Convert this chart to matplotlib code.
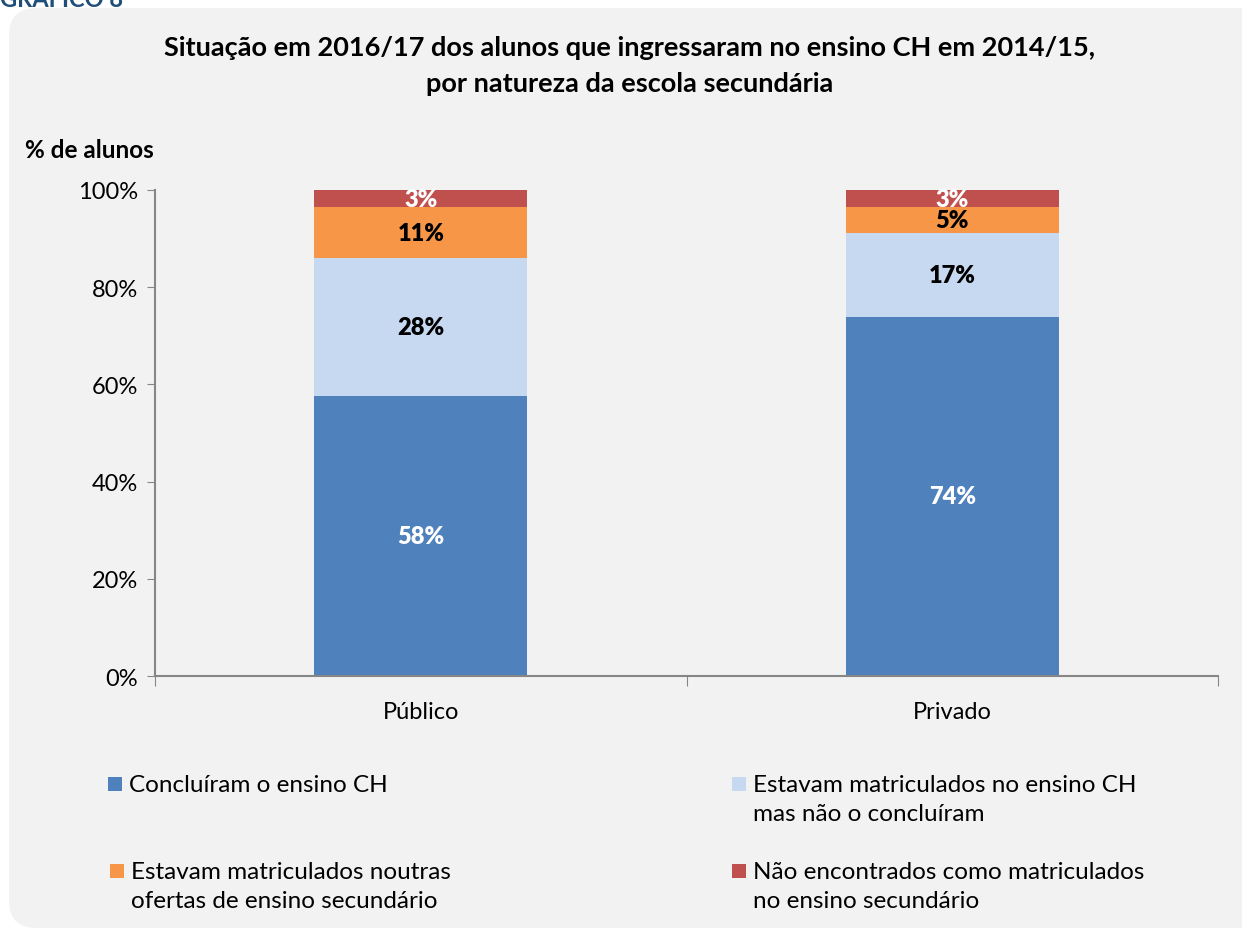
import matplotlib
matplotlib.use("Agg")
import matplotlib.pyplot as plt
from matplotlib.patches import FancyBboxPatch, Rectangle
import numpy as np

plt.rcParams['font.family'] = ['Lato', 'DejaVu Sans']

categories = ["Público", "Privado"]
series_names = [
    "Concluíram o ensino CH",
    "Estavam matriculados no ensino CH\nmas não o concluíram",
    "Estavam matriculados noutras\nofertas de ensino secundário",
    "Não encontrados como matriculados\nno ensino secundário",
]
concluiram = [57.6, 73.9]
matric_ch = [28.4, 17.3]
matric_outras = [10.5, 5.3]
nao_encontrados = [3.5, 3.5]
labels_concluiram = ["58%", "74%"]
labels_matric_ch = ["28%", "17%"]
labels_matric_outras = ["11%", "5%"]
labels_nao_encontrados = ["3%", "3%"]
yticks = [0, 20, 40, 60, 80, 100]
ytick_labels = ["0%", "20%", "40%", "60%", "80%", "100%"]

colors = ["#4F81BD", "#C6D9F1", "#F79646", "#C0504D"]
label_colors = ["white", "black", "black", "white"]

W, H = 1242, 929
fig = plt.figure(figsize=(W / 100, H / 100), dpi=100)
fig.patch.set_facecolor("white")

bg = FancyBboxPatch((9 / W, 0 / H), (W + 30 - 9) / W, (H - 9) / H,
                    boxstyle="round,pad=0,rounding_size=0.022",
                    transform=fig.transFigure, facecolor="#F2F2F2",
                    edgecolor="none", zorder=-5, mutation_aspect=W / H)
fig.patches.append(bg)
fig.text(0.0, 1.0 + 12 / H, "GRÁFICO 8", fontsize=17, fontweight="bold",
         color="#1F4E79", ha="left", va="top", zorder=-1)

fig.text(630 / W, 1 - 66 / H,
         "Situação em 2016/17 dos alunos que ingressaram no ensino CH em 2014/15,\npor natureza da escola secundária",
         ha="center", va="center", fontsize=19.5, fontweight="bold",
         linespacing=1.55)
fig.text(25 / W, 1 - 150 / H, "% de alunos", ha="left", va="center",
         fontsize=17.5, fontweight="bold")

left, right, bottom, top = 155, 1218, 677, 191
ax = fig.add_axes([left / W, 1 - bottom / H, (right - left) / W, (bottom - top) / H],
                  zorder=2)
ax.set_facecolor("none")

x = np.arange(len(categories))
data = [concluiram, matric_ch, matric_outras, nao_encontrados]
lbls = [labels_concluiram, labels_matric_ch, labels_matric_outras, labels_nao_encontrados]
base = np.zeros(len(categories))
containers = []
for vals, col, lc, lb in zip(data, colors, label_colors, lbls):
    bc = ax.bar(x, vals, bottom=base, width=0.4, color=col, edgecolor="none", zorder=2)
    containers.append(bc)
    ax.bar_label(bc, labels=lb, label_type="center", color=lc,
                 fontsize=17, fontweight="heavy")
    base = base + np.array(vals)

ax.set_xlim(-0.5, 1.5)
ax.set_ylim(0, 100)
ax.set_yticks(yticks)
ax.set_yticklabels(ytick_labels, fontsize=17)
ax.set_xticks([-0.5, 0.5, 1.5])
ax.set_xticklabels([])
ax.set_xticks(x, minor=True)
ax.set_xticklabels(categories, minor=True, fontsize=17)
ax.tick_params(axis="x", which="minor", length=0, pad=18)
ax.tick_params(axis="x", which="major", length=7, color="#868686", direction="out")
ax.tick_params(axis="y", length=6, color="#868686", direction="out", pad=6)
for s in ["top", "right"]:
    ax.spines[s].set_visible(False)
for s in ["left", "bottom"]:
    ax.spines[s].set_color("#868686")
    ax.spines[s].set_linewidth(1.5)

# legend (manual layout)
leg_pos = [(108, 785), (732, 785), (110, 872), (732, 872)]
for (px, py), name, bc in zip(leg_pos, series_names, containers):
    fc = bc.patches[0].get_facecolor()
    fig.patches.append(Rectangle((px / W, 1 - (py + 7) / H), 14 / W, 14 / H,
                                 transform=fig.transFigure, facecolor=fc,
                                 edgecolor="none", zorder=3))
    fig.text((px + 21) / W, 1 - (py - 10) / H, name, ha="left", va="top",
             fontsize=17.5, linespacing=1.45)

fig.savefig("out.png", dpi=100)
